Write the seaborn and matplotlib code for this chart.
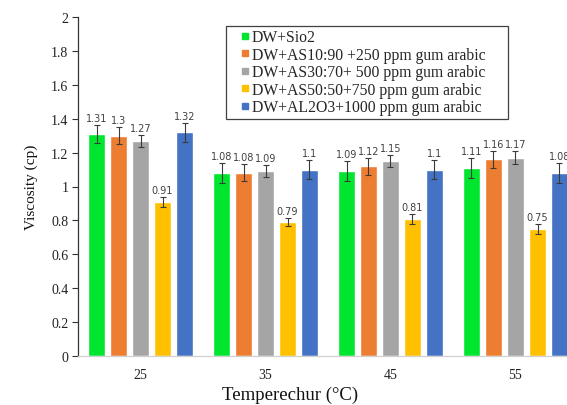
import matplotlib
matplotlib.use("Agg")
import matplotlib.pyplot as plt
from matplotlib.lines import Line2D
import seaborn as sns
import pandas as pd
import numpy as np

temps = ["25", "35", "45", "55"]
series = [
    "DW+Sio2",
    "DW+AS10:90 +250 ppm gum arabic",
    "DW+AS30:70+ 500 ppm gum arabic",
    "DW+AS50:50+750 ppm gum arabic",
    "DW+AL2O3+1000 ppm gum arabic",
]
sio2 = [1.31, 1.08, 1.09, 1.11]
as10 = [1.30, 1.08, 1.12, 1.16]
as30 = [1.27, 1.09, 1.15, 1.17]
as50 = [0.91, 0.79, 0.81, 0.75]
al2o3 = [1.32, 1.10, 1.10, 1.08]
err_sio2 = [0.055, 0.06, 0.06, 0.06]
err_as10 = [0.05, 0.05, 0.05, 0.05]
err_as30 = [0.035, 0.035, 0.035, 0.04]
err_as50 = [0.03, 0.025, 0.03, 0.03]
err_al2o3 = [0.055, 0.055, 0.055, 0.06]
colors = ["#00e62e", "#ed7d31", "#a5a5a5", "#ffc000", "#4472c4"]

values = [sio2, as10, as30, as50, al2o3]
errs = [err_sio2, err_as10, err_as30, err_as50, err_al2o3]
rows = []
for s, vals, es in zip(series, values, errs):
    for t, v, e in zip(temps, vals, es):
        rows.append({"Temp": t, "Series": s, "Viscosity": v, "Err": e})
df = pd.DataFrame(rows)

sns.set_theme(style="white")
plt.rcParams["font.family"] = ["Liberation Serif", "DejaVu Serif"]

fig = plt.figure(figsize=(5.67, 4.06), dpi=100)
ax = fig.add_axes([78 / 567, 1 - 357 / 406, 500 / 567, (357 - 18) / 406])

sns.barplot(data=df, x="Temp", y="Viscosity", hue="Series", order=temps,
            hue_order=series, palette=colors, errorbar=None, width=0.88,
            gap=0.2, saturation=1, ax=ax, legend=False)

for container, s in zip(ax.containers, series):
    sub = df[df["Series"] == s].set_index("Temp").loc[temps]
    xs = [p.get_x() + p.get_width() / 2 for p in container.patches]
    ax.errorbar(xs, sub["Viscosity"], yerr=sub["Err"], fmt="none",
                ecolor="#3a3a3a", elinewidth=0.8, capsize=2.5, capthick=0.8)
    for x, v, e in zip(xs, sub["Viscosity"], sub["Err"]):
        ax.text(x, v + e + 0.012, f"{v:g}", ha="center", va="bottom",
                fontsize=7, color="#404040", family="DejaVu Sans")

ax.set_ylim(0, 2)
ax.set_yticks(np.arange(0, 2.01, 0.2))
ax.set_yticklabels([f"{t:g}" for t in np.arange(0, 2.01, 0.2)])
ax.set_xlim(-0.5, 3.5)
ax.tick_params(axis="y", which="both", left=True, length=4, width=0.8,
               color="#333333", labelsize=10, labelcolor="#222222", pad=3)
ax.tick_params(axis="x", bottom=False, labelsize=10, labelcolor="#222222", pad=3)

for side in ["top", "right"]:
    ax.spines[side].set_visible(False)
ax.spines["left"].set_color("#333333")
ax.spines["left"].set_linewidth(0.9)
ax.spines["bottom"].set_color("#d0d0d0")
ax.spines["bottom"].set_linewidth(0.9)

ax.set_xlabel("Temperechur (°C)", fontsize=13.5, color="#111111")
ax.xaxis.set_label_coords((290 - 78) / 500, -0.088)
ax.set_ylabel("Viscosity (cp)", fontsize=11, color="#111111")
ax.yaxis.set_label_coords(-0.08, 0.5)

handles = [Line2D([0], [0], marker="s", linestyle="none", markersize=5,
                  markerfacecolor=c, markeredgecolor=c) for c in colors]
leg = ax.legend(handles, series, loc="upper left",
                bbox_to_anchor=(226 / 567, 1 - 113 / 406, 282 / 567, 86 / 406),
                bbox_transform=fig.transFigure, mode="expand", frameon=True,
                fontsize=11.3, handlelength=2.0, handletextpad=-0.55,
                labelspacing=0.1, borderpad=0.2, fancybox=False,
                borderaxespad=0)
leg.get_frame().set_edgecolor("#111111")
leg.get_frame().set_linewidth(0.9)

fig.savefig("out.png", dpi=100)
